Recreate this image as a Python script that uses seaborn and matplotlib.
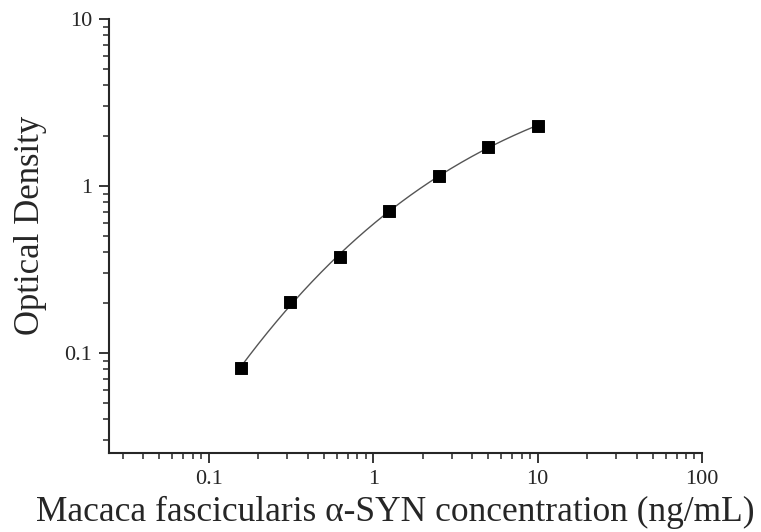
import numpy as np
import pandas as pd
import matplotlib
matplotlib.use('Agg')
import matplotlib.pyplot as plt
from matplotlib.ticker import LogLocator, FixedLocator, FixedFormatter, NullFormatter
import seaborn as sns

# standard curve readings
conc = [0.156, 0.3125, 0.625, 1.25, 2.5, 5, 10]
od = [0.081, 0.202, 0.374, 0.708, 1.148, 1.712, 2.296]
x_ticks = [0.1, 1, 10, 100]
x_labels = ['0.1', '1', '10', '100']
y_ticks = [0.1, 1, 10]
y_labels = ['0.1', '1', '10']

sns.set_style('ticks')
plt.rcParams['font.family'] = ['Liberation Serif', 'DejaVu Serif']

df = pd.DataFrame({'conc': conc, 'od': od})

# smooth fitted curve in log-log space
coef = np.polyfit(np.log10(df['conc']), np.log10(df['od']), 3)
gx = np.logspace(np.log10(conc[0]), np.log10(conc[-1]), 200)
fit = pd.DataFrame({'conc': gx, 'od': 10 ** np.polyval(coef, np.log10(gx))})

fig = plt.figure(figsize=(7.61, 5.32), dpi=100)
ax = fig.add_axes([0.1432, 0.1485, 0.9225 - 0.1432, 0.9643 - 0.1485])

sns.lineplot(data=fit, x='conc', y='od', ax=ax, color='#555555', linewidth=1.0)
sns.scatterplot(data=df, x='conc', y='od', ax=ax, marker='s', s=70,
                color='black', edgecolor='black', zorder=3)

ax.set_xscale('log')
ax.set_yscale('log')
ax.set_xlim(0.0247, 100)
ax.set_ylim(0.0252, 10)

ax.xaxis.set_major_locator(FixedLocator(x_ticks))
ax.xaxis.set_major_formatter(FixedFormatter(x_labels))
ax.yaxis.set_major_locator(FixedLocator(y_ticks))
ax.yaxis.set_major_formatter(FixedFormatter(y_labels))
ax.xaxis.set_minor_locator(LogLocator(base=10, subs=np.arange(2, 10)))
ax.yaxis.set_minor_locator(LogLocator(base=10, subs=np.arange(2, 10)))
ax.xaxis.set_minor_formatter(NullFormatter())
ax.yaxis.set_minor_formatter(NullFormatter())

ax.tick_params(which='major', direction='out', length=7, width=1.3, labelsize=16, pad=5)
ax.tick_params(which='minor', direction='out', length=4, width=1.1)
for side in ['left', 'bottom']:
    ax.spines[side].set_linewidth(1.5)
sns.despine(ax=ax)

ax.set_xlabel('Macaca fascicularis α-SYN concentration (ng/mL)', fontsize=25.5)
ax.set_ylabel('Optical Density', fontsize=25)
ax.xaxis.set_label_coords(0.482, -0.1)
ax.yaxis.set_label_coords(-0.105, 0.525)

fig.savefig('out.png', dpi=100)
